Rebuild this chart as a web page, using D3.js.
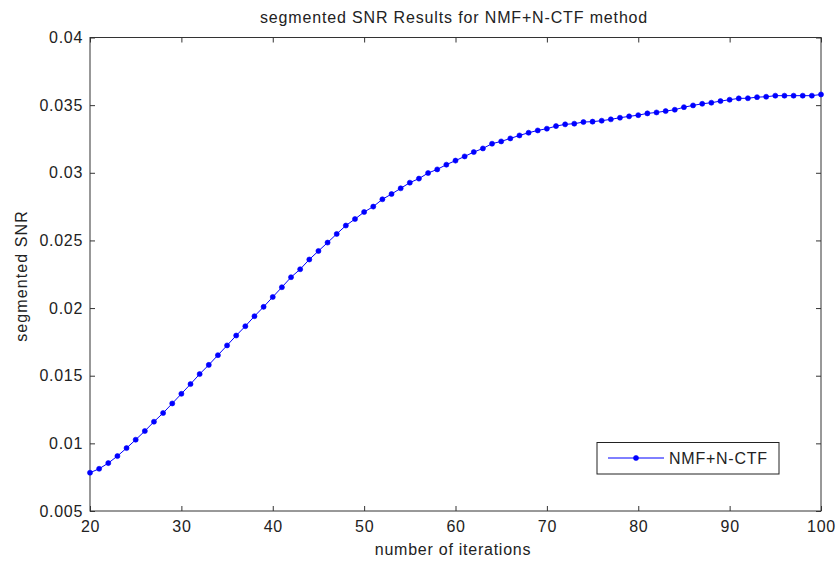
<!DOCTYPE html>
<html><head><meta charset="utf-8">
<script src="https://cdn.jsdelivr.net/npm/d3@7"></script>
<style>body{margin:0;background:#fff}text{font-family:Arial,"Liberation Sans",sans-serif;fill:#222}</style>
</head><body><svg id="c" width="838" height="567"></svg>
<script>
const iterations = d3.range(20, 101);
const snr = [0.00783,0.00812,0.00854,0.00906,0.00965,0.01027,0.01091,0.0116,0.01224,0.01295,
0.01366,0.01438,0.01512,0.0158,0.01652,0.01724,0.01797,0.01866,0.0194,0.02009,
0.02082,0.02154,0.02228,0.02287,0.02359,0.02422,0.02484,0.02548,0.0261,0.02658,
0.0271,0.0275,0.02804,0.02843,0.02885,0.02927,0.02957,0.02998,0.03025,0.0306,
0.0309,0.03121,0.03153,0.0318,0.03215,0.03232,0.03254,0.03276,0.03296,0.03313,
0.03326,0.03345,0.03358,0.03363,0.03375,0.03378,0.03385,0.03395,0.03407,0.03417,
0.03426,0.03439,0.03446,0.03456,0.03466,0.03485,0.03498,0.0351,0.03518,0.0353,
0.0354,0.0355,0.03551,0.03559,0.03562,0.0357,0.0357,0.0357,0.0357,0.0357,0.03579];
const xTicks = [20,30,40,50,60,70,80,90,100];
const yTicks = [0.005,0.01,0.015,0.02,0.025,0.03,0.035,0.04];
const yTickLabels = ["0.005","0.01","0.015","0.02","0.025","0.03","0.035","0.04"];
const seriesName = "NMF+N-CTF";
const title = "segmented SNR Results for NMF+N-CTF method";
const xLabel = "number of iterations";
const yLabel = "segmented SNR";

const L=90, R=821, T=37.5, B=511;
const svg = d3.select("#c");
const x = d3.scaleLinear().domain([20,100]).range([L,R]);
const y = d3.scaleLinear().domain([0.005,0.04]).range([B,T]);
const axisColor = "#333";
const fs = 16, ls = "0.7px";

svg.append("rect").attr("x",L).attr("y",T).attr("width",R-L).attr("height",B-T)
  .attr("fill","none").attr("stroke",axisColor).attr("stroke-width",1);

const tl=5;
const gx = svg.append("g").attr("transform",`translate(0,${B})`)
  .call(d3.axisBottom(x).tickValues(xTicks).tickSize(-tl).tickPadding(10).tickFormat(d3.format("d")));
const gxt = svg.append("g").attr("transform",`translate(0,${T})`)
  .call(d3.axisTop(x).tickValues(xTicks).tickSize(-tl).tickFormat(""));
const gy = svg.append("g").attr("transform",`translate(${L},0)`)
  .call(d3.axisLeft(y).tickValues(yTicks).tickSize(-tl).tickPadding(7).tickFormat((d,i)=>yTickLabels[i]));
const gyr = svg.append("g").attr("transform",`translate(${R},0)`)
  .call(d3.axisRight(y).tickValues(yTicks).tickSize(-tl).tickFormat(""));
[gx,gxt,gy,gyr].forEach(g=>{
  g.select(".domain").remove();
  g.selectAll("line").attr("stroke",axisColor);
  g.selectAll("text").attr("font-size",fs).attr("letter-spacing",ls)
   .attr("font-family","Arial,'Liberation Sans',sans-serif").attr("fill","#222");
});

const data = iterations.map((d,i)=>({x:d,y:snr[i]}));
const line = d3.line().x(d=>x(d.x)).y(d=>y(d.y));
svg.append("path").datum(data).attr("d",line).attr("fill","none").attr("stroke","#0000ff").attr("stroke-width",1);
const sym = d3.symbol().type(d3.symbolCircle).size(20);
svg.append("g").selectAll("path").data(data).join("path")
  .attr("d",sym).attr("transform",d=>`translate(${x(d.x)},${y(d.y)})`)
  .attr("fill","#0000ff").attr("stroke","#0000ff").attr("stroke-width",0.6);

svg.append("text").attr("x",454).attr("y",22.5).attr("text-anchor","middle").attr("font-size",fs).attr("letter-spacing","0.85px").text(title);
svg.append("text").attr("x",453).attr("y",555).attr("text-anchor","middle").attr("font-size",fs).attr("letter-spacing","0.75px").text(xLabel);
svg.append("text").attr("transform",`translate(27,276) rotate(-90)`).attr("text-anchor","middle").attr("font-size",fs).attr("letter-spacing","1.1px").text(yLabel);

const lg = svg.append("g");
lg.append("rect").attr("x",597).attr("y",442.5).attr("width",182).attr("height",31.5)
  .attr("fill","#fff").attr("stroke","#222").attr("stroke-width",1);
lg.append("line").attr("x1",608).attr("x2",664).attr("y1",458).attr("y2",458).attr("stroke","#0000ff").attr("stroke-width",1);
lg.append("path").attr("d",sym).attr("transform","translate(636,458)").attr("fill","#0000ff").attr("stroke","#0000ff").attr("stroke-width",0.6);
lg.append("text").attr("x",669).attr("y",463.5).attr("font-size",fs).attr("letter-spacing","0.75px").text(seriesName);
</script></body></html>
